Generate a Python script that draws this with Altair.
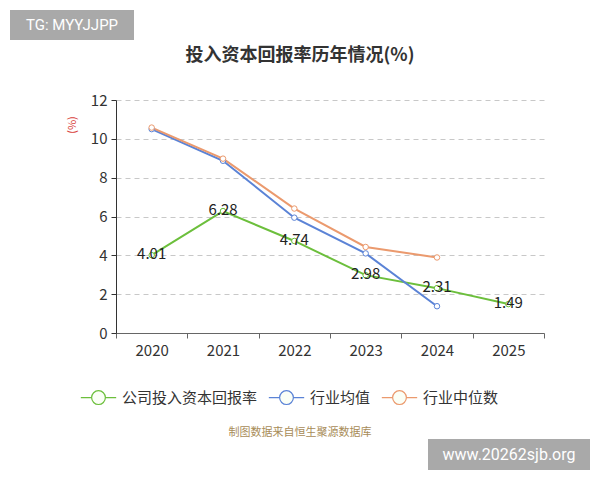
import pandas as pd
import altair as alt

years = ['2020', '2021', '2022', '2023', '2024', '2025']
company = [4.01, 6.28, 4.74, 2.98, 2.31, 1.49]
ind_mean = [10.50, 8.87, 5.94, 4.10, 1.38]
ind_median = [10.58, 8.98, 6.41, 4.43, 3.89]

series_names = ['公司投入资本回报率', '行业均值', '行业中位数']
series_colors = ['#6cbf3c', '#5b83d6', '#eb9a6e']

rows = []
for y, v in zip(years, company):
    rows.append({'year': y, 'value': v, 'series': series_names[0]})
for y, v in zip(years, ind_mean):
    rows.append({'year': y, 'value': v, 'series': series_names[1]})
for y, v in zip(years, ind_median):
    rows.append({'year': y, 'value': v, 'series': series_names[2]})
df = pd.DataFrame(rows)
df['label'] = df['value'].map(lambda v: f'{v:.2f}')

W, H = 428, 233
FONT = 'Noto Sans CJK SC'

x = alt.X('year:O', title=None,
          scale=alt.Scale(domain=years, paddingInner=0, paddingOuter=0),
          axis=alt.Axis(labelAngle=0, labelFontSize=15, labelColor='#333',
                        labelFont=FONT, labelPadding=5, tickBand='extent',
                        tickSize=5, tickColor='#666', domainColor='#666',
                        grid=False))
y = alt.Y('value:Q', title=None,
          scale=alt.Scale(domain=[0, 12], nice=False),
          axis=alt.Axis(values=[0, 2, 4, 6, 8, 10, 12], labelFontSize=15,
                        labelColor='#333', labelFont=FONT, labelPadding=4,
                        tickSize=5, tickColor='#333', domainColor='#333',
                        gridDash=[5, 4], gridColor='#c8c8c8'))

legend_path = ('M-1,0L-0.39,0M0.39,0L1,0'
               'M-0.39,0A0.39,0.39 0 1,1 0.39,0A0.39,0.39 0 1,1 -0.39,0Z')

color = alt.Color('series:N', title=None,
                  scale=alt.Scale(domain=series_names, range=series_colors),
                  legend=alt.Legend(orient='none', direction='horizontal',
                                    legendX=-36, legendY=279,
                                    symbolType=legend_path, symbolSize=1250,
                                    symbolStrokeWidth=1.2,
                                    symbolFillColor='#fbfff6',
                                    labelFontSize=15, labelColor='#333',
                                    labelFont=FONT, labelOffset=5,
                                    columnPadding=8))

base = alt.Chart(df)

lines = base.mark_line(strokeWidth=2).encode(x=x, y=y, color=color)
points = base.mark_point(filled=False, fill='white', size=30,
                         strokeWidth=1, opacity=1).encode(
    x=x, y=y, color=alt.Color('series:N', scale=alt.Scale(domain=series_names,
                                                            range=series_colors),
                              legend=None))
labels = base.transform_filter(
    alt.datum.series == series_names[0]
).mark_text(fontSize=15, color='#222', font=FONT, baseline='middle', dy=-1).encode(
    x=x, y=y, text='label:N')

one = pd.DataFrame({'a': [0]})
ann = alt.Chart(one)

title = ann.mark_text(text='投入资本回报率历年情况(%)', fontSize=18,
                      fontWeight='bold', color='#333', font=FONT,
                      align='center', baseline='middle').encode(
    x=alt.value(184), y=alt.value(-44))
tg_box = ann.mark_rect(color='#a9a9a9').encode(
    x=alt.value(-106), x2=alt.value(18), y=alt.value(-90), y2=alt.value(-60))
tg_text = ann.mark_text(text='TG: MYYJJPP', fontSize=15, color='white',
                        font='Roboto', align='center', baseline='middle').encode(
    x=alt.value(-44), y=alt.value(-75))
y_title = ann.mark_text(text='(%)', fontSize=11, color='#d9413b', font=FONT,
                        angle=270, align='center', baseline='middle').encode(
    x=alt.value(-43), y=alt.value(25))
source = ann.mark_text(text='制图数据来自恒生聚源数据库', fontSize=11,
                       color='#a88c58', font=FONT, align='center',
                       baseline='middle').encode(
    x=alt.value(184), y=alt.value(333))
www_box = ann.mark_rect(color='#a9a9a9').encode(
    x=alt.value(312), x2=alt.value(474), y=alt.value(339), y2=alt.value(370))
www_text = ann.mark_text(text='www.20262sjb.org', fontSize=16, color='white',
                         font='Roboto', align='center', baseline='middle').encode(
    x=alt.value(393), y=alt.value(355))

chart = alt.layer(
    lines, points, labels, title, tg_box, tg_text, y_title, source,
    www_box, www_text
).resolve_scale(color='shared').properties(
    width=W, height=H,
    autosize=alt.AutoSizeParams(type='none'),
    padding={'left': 108, 'top': 92, 'right': 48, 'bottom': 139},
).configure_view(stroke=None)

chart.save("out.html", embed_options={"renderer": "svg", "actions": False})
